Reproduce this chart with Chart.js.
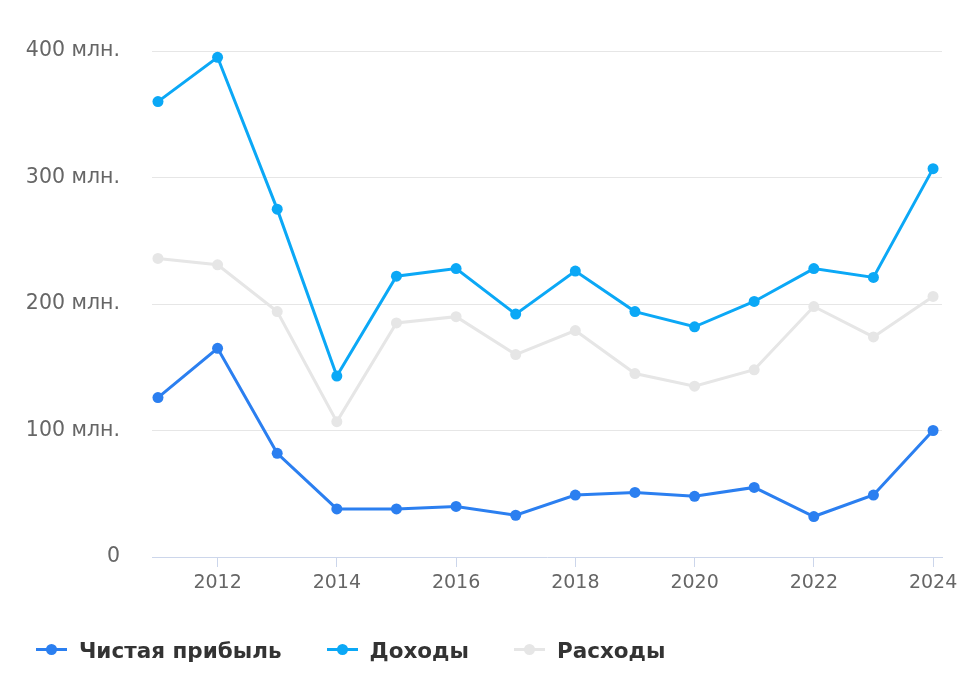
<!DOCTYPE html>
<html>
<head>
<meta charset="utf-8">
<script src="https://cdn.jsdelivr.net/npm/chart.js@4"></script>
<style>
  html, body { margin: 0; padding: 0; background: #fff; }
  #wrap { position: relative; width: 974px; height: 684px; }
  #legend {
    position: absolute; top: 636px; left: 36px;
    display: flex; align-items: center;
    font-family: "DejaVu Sans", sans-serif; font-weight: bold; font-size: 21.5px; color: #333;
  }
  .item { display: flex; align-items: center; margin-right: 45px; }
  .sym { position: relative; width: 31px; height: 28px; margin-right: 12px; }
  .sym .ln { position: absolute; left: 0; right: 0; top: 12px; height: 3px; }
  .sym .dt { position: absolute; left: 10px; top: 8px; width: 11px; height: 11px; border-radius: 50%; }
</style>
</head>
<body>
<div id="wrap">
  <canvas id="chart" width="974" height="684"></canvas>
  <div id="legend"></div>
</div>
<script>
const years = [2011, 2012, 2013, 2014, 2015, 2016, 2017, 2018, 2019, 2020, 2021, 2022, 2023, 2024];
const profit = [126, 165, 82, 38, 38, 40, 33, 49, 51, 48, 55, 32, 49, 100];
const income = [360, 395, 275, 143, 222, 228, 192, 226, 194, 182, 202, 228, 221, 307];
const expenses = [236, 231, 194, 107, 185, 190, 160, 179, 145, 135, 148, 198, 174, 206];
const xTicks = [2012, 2014, 2016, 2018, 2020, 2022, 2024];
const yTicks = [0, 100, 200, 300, 400];

const series = [
  { label: "Чистая прибыль", values: profit, color: "#2b7ff0", order: 1 },
  { label: "Доходы", values: income, color: "#0ba8f6", order: 2 },
  { label: "Расходы", values: expenses, color: "#e6e6e6", order: 3 },
];

const font = "DejaVu Sans";

new Chart(document.getElementById("chart"), {
  type: "line",
  data: {
    datasets: series.map((s) => ({
      label: s.label,
      data: years.map((y, i) => ({ x: y, y: s.values[i] })),
      borderColor: s.color,
      backgroundColor: s.color,
      pointBackgroundColor: s.color,
      pointBorderWidth: 0,
      pointRadius: 5.5,
      borderWidth: 3,
      tension: 0,
      order: s.order,
    })),
  },
  options: {
    responsive: false,
    animation: false,
    layout: { padding: { top: 51, right: 32, bottom: 87, left: 0 } },
    plugins: { legend: { display: false }, tooltip: { enabled: false } },
    scales: {
      x: {
        type: "linear",
        min: 2010.9,
        max: 2024.15,
        afterBuildTicks: (s) => { s.ticks = xTicks.map((v) => ({ value: v })); },
        afterFit: (s) => { s.height = 40; },
        grid: { drawOnChartArea: false, drawTicks: true, tickLength: 10, color: "#ccd6eb", lineWidth: 1 },
        border: { color: "#ccd6eb", width: 1 },
        ticks: { color: "#666", font: { family: font, size: 19 }, padding: 5, callback: (v) => String(v), maxRotation: 0 },
      },
      y: {
        min: 0,
        max: 400,
        afterBuildTicks: (s) => { s.ticks = yTicks.map((v) => ({ value: v })); },
        afterFit: (s) => { s.width = 152; },
        grid: { drawTicks: false, color: (c) => (c.tick.value === 0 ? "rgba(0,0,0,0)" : "#e6e6e6"), lineWidth: 1 },
        border: { display: false },
        ticks: {
          color: "#666",
          font: { family: font, size: 20.5 },
          padding: 32,
          callback: (v) => (v === 0 ? "0" : v + " млн."),
        },
      },
    },
  },
});

// legend
const legend = document.getElementById("legend");
series.forEach((s) => {
  const item = document.createElement("div");
  item.className = "item";
  item.innerHTML = `<div class="sym"><div class="ln" style="background:${s.color}"></div><div class="dt" style="background:${s.color}"></div></div><span>${s.label}</span>`;
  legend.appendChild(item);
});
</script>
</body>
</html>
